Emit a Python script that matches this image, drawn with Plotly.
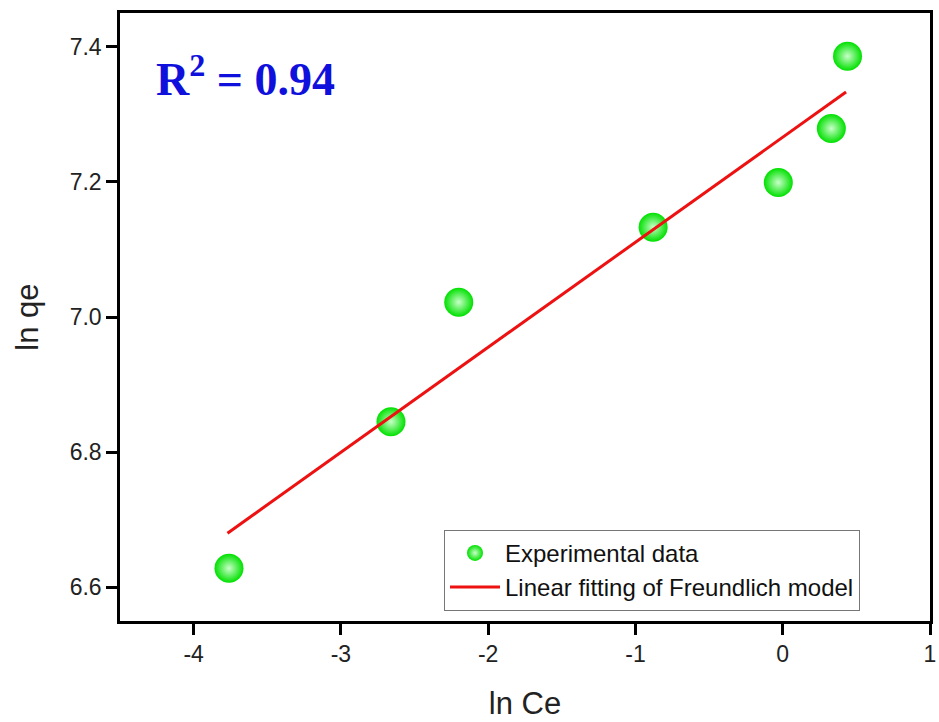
import plotly.graph_objects as go

ln_ce = [-3.76, -2.66, -2.20, -0.88, -0.03, 0.33, 0.44]
ln_qe = [6.628, 6.845, 7.022, 7.133, 7.199, 7.279, 7.386]

# Linear fit of Freundlich model (endpoints)
fit_x = [-3.77, 0.43]
fit_y = [6.68, 7.333]

x_ticks = [-4, -3, -2, -1, 0, 1]
y_ticks = [6.6, 6.8, 7.0, 7.2, 7.4]

fig = go.Figure()

fig.add_trace(go.Scatter(
    x=ln_ce, y=ln_qe, mode="markers", name="Experimental data",
    marker=dict(size=29, color="#00e000",
                gradient=dict(type="radial", color="#c8ffc8"),
                line=dict(width=0)),
))
fig.add_trace(go.Scatter(
    x=fit_x, y=fit_y, mode="lines", name="Linear fitting of Freundlich model",
    line=dict(color="#ee1111", width=3),
))

axis_common = dict(
    showline=True, linecolor="black", linewidth=2.5, mirror=True,
    ticks="outside", ticklen=11, tickwidth=2.5, tickcolor="black",
    showgrid=False, zeroline=False, automargin=False,
    ticklabeloverflow="allow",
    tickfont=dict(family="Liberation Sans, Arial", size=23, color="#222"),
)

fig.update_xaxes(
    range=[-4.5, 1], tickvals=x_ticks, ticktext=[str(v) for v in x_ticks],
    title=dict(text="ln Ce", font=dict(family="Liberation Sans, Arial", size=31, color="#222"),
               standoff=26),
    **axis_common,
)
fig.update_yaxes(
    range=[6.55, 7.45], tickvals=y_ticks, ticktext=[f"{v:.1f}" for v in y_ticks],
    title=dict(text="ln qe", font=dict(family="Liberation Sans, Arial", size=31, color="#222"),
               standoff=22),
    **axis_common,
)

fig.add_annotation(
    xref="paper", yref="paper", x=0.042, y=0.897, xanchor="left", yanchor="middle",
    text="<b>R<sup>2</sup> = 0.94</b>", showarrow=False,
    font=dict(family="Liberation Serif, Times New Roman", size=46, color="#1010dd"),
)

fig.update_layout(
    width=939, height=722,
    margin=dict(l=120, r=9, t=13, b=101, autoexpand=False),
    paper_bgcolor="white", plot_bgcolor="white",
    showlegend=True,
    legend=dict(
        x=0.40, y=0.15, xanchor="left", yanchor="top",
        bordercolor="#777", borderwidth=1, bgcolor="white",
        font=dict(family="Liberation Sans, Arial", size=24, color="#111"),
        itemwidth=50, tracegroupgap=0,
    ),
)

fig.write_html("out.html")
